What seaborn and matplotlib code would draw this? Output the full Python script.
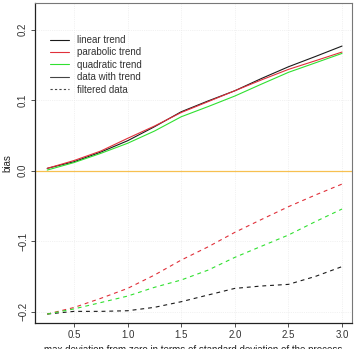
import numpy as np
import pandas as pd
import matplotlib
matplotlib.use("Agg")
import matplotlib.pyplot as plt
from matplotlib.lines import Line2D
import seaborn as sns

# max deviation (in sd units)
dev = [0.25, 0.5, 0.75, 1.0, 1.25, 1.5, 1.75, 2.0, 2.25, 2.5, 2.75, 3.0]

# bias, data with trend
linear_trend = [0.0034, 0.0128, 0.0265, 0.0426, 0.0624, 0.0837, 0.099, 0.1135, 0.131, 0.1475, 0.162, 0.1769]
parabolic_trend = [0.0034, 0.0145, 0.028, 0.046, 0.0634, 0.0826, 0.098, 0.1135, 0.129, 0.1438, 0.156, 0.1684]
quadratic_trend = [0.001, 0.0116, 0.0247, 0.039, 0.0563, 0.0766, 0.091, 0.106, 0.123, 0.1396, 0.153, 0.1665]

# bias, filtered data
linear_filt = [-0.2033, -0.1995, -0.1995, -0.1986, -0.1938, -0.1858, -0.1763, -0.1669, -0.1635, -0.1612, -0.150, -0.136]
parabolic_filt = [-0.2033, -0.194, -0.181, -0.1669, -0.148, -0.1267, -0.108, -0.0874, -0.069, -0.051, -0.0345, -0.0189]
quadratic_filt = [-0.2033, -0.196, -0.187, -0.1778, -0.1654, -0.155, -0.141, -0.1229, -0.107, -0.0912, -0.0723, -0.0543]

legend_labels = ["linear trend", "parabolic trend", "quadratic trend", "data with trend", "filtered data"]

sns.set_style("white")
plt.rcParams["font.family"] = ["Liberation Sans", "DejaVu Sans"]

fig = plt.figure(figsize=(3.55, 3.49), dpi=100)
ax = fig.add_axes([0.0986, 0.0745, 0.8929, 0.9169])

cols = {"lin": "#1a1a1a", "par": "#e0303a", "quad": "#30e030"}
series = [
    (linear_trend, cols["lin"], "-"),
    (parabolic_trend, cols["par"], "-"),
    (quadratic_trend, cols["quad"], "-"),
    (linear_filt, cols["lin"], "--"),
    (parabolic_filt, cols["par"], "--"),
    (quadratic_filt, cols["quad"], "--"),
]
for vals, c, ls in series:
    df = pd.DataFrame({"dev": dev, "bias": vals})
    sns.lineplot(data=df, x="dev", y="bias", color=c, lw=0.8, ax=ax)
    line = ax.lines[-1]
    if ls == "--":
        line.set_dashes((3.5, 3.5))

ax.axhline(0, color="#f7c050", lw=0.9, zorder=1)

ax.set_xlim(0.136, 3.093)
ax.set_ylim(-0.216, 0.238)
ax.set_xticks([0.5, 1.0, 1.5, 2.0, 2.5, 3.0])
ax.set_yticks([-0.2, -0.1, 0.0, 0.1, 0.2])
ax.set_yticklabels(["\u22120.2", "\u22120.1", "0.0", "0.1", "0.2"], rotation=90, va="center")
ax.grid(True, color="#e6e6e6", lw=0.5, ls=":")
ax.tick_params(axis="both", direction="out", length=3, width=0.6, labelsize=7,
               colors="#333333", pad=2, left=True, bottom=True)
for s in ["top", "right"]:
    ax.spines[s].set_color("#777777")
    ax.spines[s].set_linewidth(0.8)
for s in ["left", "bottom"]:
    ax.spines[s].set_color("#222222")
    ax.spines[s].set_linewidth(0.9)

ax.set_xlabel("max deviation from zero in terms of standard deviation of the process",
              fontsize=7, color="#222222", labelpad=4)
ax.set_ylabel("bias", fontsize=7, color="#222222", labelpad=4)

handles = [
    Line2D([], [], color=cols["lin"], lw=0.8),
    Line2D([], [], color=cols["par"], lw=0.8),
    Line2D([], [], color=cols["quad"], lw=0.8),
    Line2D([], [], color="#444444", lw=0.8),
    Line2D([], [], color="#444444", lw=0.8, dashes=(2, 2)),
]
ax.legend(handles, legend_labels, loc="upper left", bbox_to_anchor=(0.047, 0.9),
          borderaxespad=0, borderpad=0, frameon=False, fontsize=7,
          handlelength=2.0, labelspacing=0.25, handletextpad=0.8,
          labelcolor="#333333")

fig.savefig("out.png", dpi=100)
